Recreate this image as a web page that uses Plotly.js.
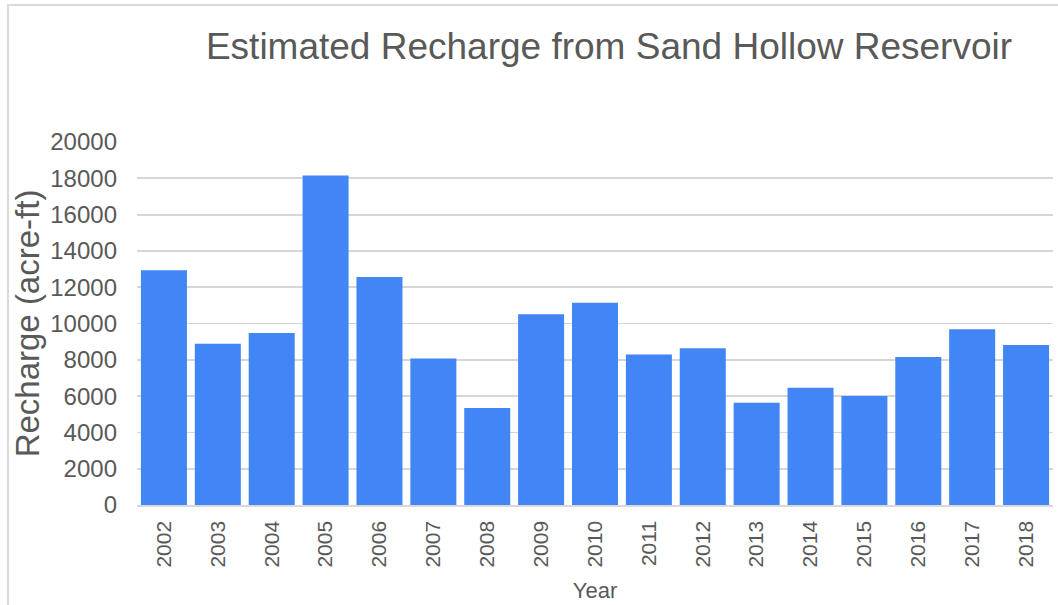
<!DOCTYPE html>
<html>
<head>
<meta charset="utf-8">
<script src="https://cdn.plot.ly/plotly-3.0.1.min.js"></script>
<style>
  html, body { margin: 0; padding: 0; background: #ffffff; overflow: hidden; }
  #wrap { position: relative; width: 1058px; height: 605px; }
  #chart { position: absolute; left: 0; top: 0; width: 1058px; height: 605px; }
  #frame { position: absolute; left: 7px; top: 4px; width: 1100px; height: 700px;
           border: 2px solid #dadada; pointer-events: none; box-sizing: border-box; }
</style>
</head>
<body>
<div id="wrap">
  <div id="chart"></div>
  <div id="frame"></div>
</div>
<script>
const years = ["2002","2003","2004","2005","2006","2007","2008","2009","2010",
               "2011","2012","2013","2014","2015","2016","2017","2018"];
const recharge = [12930, 8880, 9470, 18150, 12560, 8070, 5340, 10510, 11150,
                  8290, 8640, 5640, 6460, 6000, 8150, 9690, 8810];
const yTicks = [0, 2000, 4000, 6000, 8000, 10000, 12000, 14000, 16000, 18000, 20000];

const FONT = "Liberation Sans, Arial, sans-serif";
const GRAY = "#595959";

const trace = {
  type: "bar",
  x: years,
  y: recharge,
  marker: { color: "#4285f4" },
  hoverinfo: "x+y"
};

const layout = {
  width: 1058,
  height: 605,
  margin: { l: 137, r: 5, t: 142, b: 99.5, pad: 0 },
  paper_bgcolor: "rgba(0,0,0,0)",
  plot_bgcolor: "#ffffff",
  bargap: 0.146,
  showlegend: false,
  font: { family: FONT, color: GRAY },
  title: {
    text: "Estimated Recharge from Sand Hollow Reservoir",
    font: { family: FONT, size: 37, color: GRAY },
    x: 609 / 1058, xanchor: "center", xref: "container",
    y: 1 - 46 / 605, yanchor: "middle", yref: "container"
  },
  xaxis: {
    type: "category",
    tickangle: -90,
    tickfont: { family: FONT, size: 21, color: GRAY },
    ticks: "",
    ticklabelstandoff: 6,
    showgrid: false,
    showline: true,
    linecolor: "#d9d9d9",
    linewidth: 1.5,
    automargin: false,
    title: { text: "Year", font: { family: FONT, size: 22, color: GRAY }, standoff: 16 }
  },
  yaxis: {
    range: [0, 20000],
    tickvals: yTicks,
    ticktext: yTicks.map(String),
    tickfont: { family: FONT, size: 24, color: GRAY },
    ticks: "",
    ticklabelstandoff: 19,
    showgrid: true,
    gridcolor: "#d6d6d6",
    gridwidth: 1.8,
    zeroline: false,
    showline: false,
    automargin: false,
    title: { text: "Recharge (acre-ft)", font: { family: FONT, size: 33, color: GRAY }, standoff: 0 }
  }
};

Plotly.newPlot("chart", [trace], layout, { displayModeBar: false, staticPlot: true });
</script>
</body>
</html>
